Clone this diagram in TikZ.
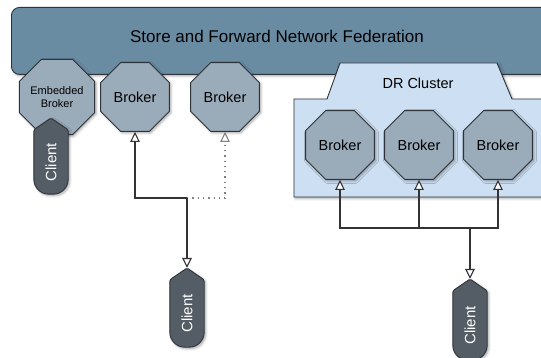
\documentclass[tikz,border=0pt]{standalone}
\usepackage{fontspec}
\setmainfont{Liberation Sans}
\usetikzlibrary{shapes.geometric,arrows.meta,calc,shadows.blur}

\definecolor{fedblue}{HTML}{6A8CA3}
\definecolor{brokerfill}{HTML}{9AABBA}
\definecolor{drfill}{HTML}{CDDFF2}
\definecolor{clientfill}{HTML}{545C65}
\definecolor{edge}{HTML}{2E3439}
\definecolor{wire}{HTML}{333333}

\tikzset{
  softshadow/.style={blur shadow={shadow xshift=1.5pt, shadow yshift=-1.5pt,
      shadow blur radius=2.5pt, shadow opacity=35}},
  broker/.style={regular polygon, regular polygon sides=8, minimum size=74.5pt,
      inner sep=0pt, draw=edge, line width=0.9pt, fill=brokerfill,
      font=\fontsize{14.5}{16}\selectfont, softshadow},
  clientanchor/.style={rectangle, draw=none, minimum width=34pt, inner sep=0pt},
  clientbody/.style={draw=edge, line width=0.9pt, fill=clientfill, softshadow},
  clienttext/.style={rotate=90, text=white, font=\fontsize{15}{17}\selectfont},
  link/.style={draw=wire, line width=1.3pt,
      -{Triangle[open, length=10pt, width=9.5pt, line width=1.1pt, fill=white]}},
  weaklink/.style={link, draw=gray, line width=1.3pt,
      dash pattern=on 1.3pt off 4pt},
}

% client: pointed top, rounded foot; #1 name, #2 centre x, #3 tip y, #4 foot y
\newcommand\clientpod[4]{%
  \coordinate (#1tip) at (#2,#3);
  \node[clientanchor, minimum height={(#4)-(#3)}] (#1) at (#2,{((#3)+(#4))/2}) {};
  \path[clientbody]
    (#1tip) [rounded corners=1.5pt] -- ($(#1.north east)+(0,12)$)
    [rounded corners=15pt] -- (#1.south east) -- (#1.south west)
    [rounded corners=1.5pt] -- ($(#1.north west)+(0,12)$) -- cycle;
  \node[clienttext] at ($(#1.center)+(0,6)$) {Client};
}

\begin{document}
\begin{tikzpicture}[x=1pt, y=-1pt]
  \useasboundingbox (0,0) rectangle (541,358);
  \begin{scope}
    \clip (0,0) rectangle (541,358);

    % federation bar
    \node[draw=edge, line width=0.9pt, fill=fedblue, rounded corners=8pt,
          minimum width=560pt, minimum height=67pt, anchor=north west,
          softshadow] (fed) at (11,7) {};
    \node[font=\fontsize{17}{19}\selectfont] (fedlabel) at (277,36)
          {Store and Forward Network Federation};

    % DR cluster outline with tab
    \path[draw=edge, line width=0.9pt, fill=drfill, softshadow]
      (294,99) -- (327,99) -- (340,63) -- (497,63) -- (512,99)
      -- (560,99) -- (560,197) -- (294,197) -- cycle;
    \node[font=\fontsize{14.5}{16}\selectfont] (drlabel) at (418,83) {DR Cluster};

    % brokers
    \node[broker, font=\fontsize{11}{13.5}\selectfont, align=center]
      (eb) at (57,97) {Embedded\\Broker};
    \node[broker] (b1) at (135,97) {Broker};
    \node[broker] (b2) at (225,97) {Broker};
    \node[broker] (b3) at (340,145) {Broker};
    \node[broker] (b4) at (419,145) {Broker};
    \node[broker] (b5) at (498,145) {Broker};

    % clients
    \clientpod{c1}{51}{118}{194}
    \clientpod{c2}{187}{268}{347}
    \clientpod{c3}{470}{279}{360}

    % junctions
    \coordinate (j1) at (187,198);
    \coordinate (j2) at (470,228);
    \coordinate (j4) at (b4.south |- j2);

    % connectors
    \draw[weaklink] (j1) -| (b2.south);
    \draw[link] (j1) -| (b1.south);
    \draw[link] (j1) -- (c2tip);

    \draw[link] (j2) -| (b3.south);
    \draw[link] (j2) -| (b5.south);
    \draw[link] (j4) -- (b4.south);
    \draw[link] (j2) -- (c3tip);
  \end{scope}
\end{tikzpicture}
\end{document}
